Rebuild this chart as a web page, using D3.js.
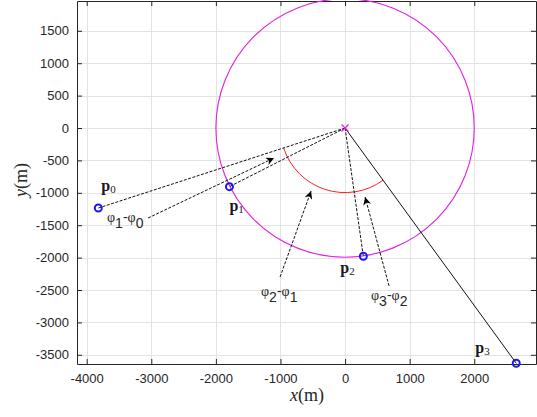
<!DOCTYPE html>
<html>
<head>
<meta charset="utf-8">
<script src="https://cdn.jsdelivr.net/npm/d3@7"></script>
<style>
  body { margin: 0; background: #fff; }
  svg { display: block; }
</style>
</head>
<body>
<script>
// points p0..p3 (metres)
var pointNames = ["p0", "p1", "p2", "p3"];
var pointX = [-3820, -1790, 283, 2650];
var pointY = [-1235, -905, -1980, -3630];
var lineDashed = [true, true, true, false];

// circles round the origin
var bigRadius = 2000;
var arcRadius = 1000;

// angle annotations: label, arrow from -> to (metres)
var annoText = [["1", "0"], ["2", "1"], ["3", "2"]];
var annoFromX = [-3050, -1006, 681];
var annoFromY = [-1389, -2299, -2438];
var annoToX = [-1099, -526, 310];
var annoToY = [-463, -972, -1065];

var xTicks = [-4000, -3000, -2000, -1000, 0, 1000, 2000];
var yTicks = [-3500, -3000, -2500, -2000, -1500, -1000, -500, 0, 500, 1000, 1500];

var w = 537;
var h = 417;
var mLeft = 77, mRight = 536, mTop = 1, mBottom = 364;

var x = d3.scaleLinear().domain([-4150, 2956]).range([mLeft, mRight]);
var y = d3.scaleLinear().domain([-3642, 1960]).range([mBottom, mTop]);

var svg = d3.select("body")
			.append("svg")
			.attr("width", w)
			.attr("height", h);

svg.append("defs").append("marker")
   .attr("id", "head")
   .attr("viewBox", "0 0 10 10")
   .attr("refX", 10)
   .attr("refY", 5)
   .attr("markerWidth", 11)
   .attr("markerHeight", 8)
   .attr("markerUnits", "userSpaceOnUse")
   .attr("orient", "auto")
   .append("path")
   .attr("d", "M0,0 L10,5 L0,10 L3,5 Z")
   .attr("fill", "#000");

//grid
var grid = svg.append("g").attr("stroke", "#e3e3e3").attr("stroke-width", 1);
grid.selectAll(".gx")
   .data(xTicks)
   .enter()
   .append("line")
   .attr("x1", function(d) { return Math.round(x(d)) + 0.5; })
   .attr("x2", function(d) { return Math.round(x(d)) + 0.5; })
   .attr("y1", mTop)
   .attr("y2", mBottom);
grid.selectAll(".gy")
   .data(yTicks)
   .enter()
   .append("line")
   .attr("y1", function(d) { return Math.round(y(d)) + 0.5; })
   .attr("y2", function(d) { return Math.round(y(d)) + 0.5; })
   .attr("x1", mLeft)
   .attr("x2", mRight);

//axes (MATLAB style, ticks inside, box on)
var tickFont = "'Liberation Sans', Arial, sans-serif";
var fmt = function(d) { return String(d); };
svg.append("g")
   .attr("transform", "translate(0," + mBottom + ")")
   .call(d3.axisBottom(x).tickValues(xTicks).tickFormat(fmt).tickSizeInner(-5).tickSizeOuter(0).tickPadding(10));
svg.append("g")
   .attr("transform", "translate(" + mLeft + ",0)")
   .call(d3.axisLeft(y).tickValues(yTicks).tickFormat(fmt).tickSizeInner(-5).tickSizeOuter(0).tickPadding(8));
svg.append("g")
   .attr("transform", "translate(0," + mTop + ")")
   .call(d3.axisTop(x).tickValues(xTicks).tickSizeInner(-5).tickSizeOuter(0).tickFormat(""));
svg.append("g")
   .attr("transform", "translate(" + mRight + ",0)")
   .call(d3.axisRight(y).tickValues(yTicks).tickSizeInner(-5).tickSizeOuter(0).tickFormat(""));
svg.selectAll(".domain").attr("stroke", "#262626");
svg.selectAll(".tick line").attr("stroke", "#262626");
svg.selectAll(".tick text")
   .attr("font-family", tickFont)
   .attr("font-size", "13px")
   .attr("fill", "#262626");

//big magenta circle
svg.append("circle")
   .attr("cx", x(0))
   .attr("cy", y(0))
   .attr("r", x(bigRadius) - x(0))
   .attr("fill", "none")
   .attr("stroke", "#e020e0")
   .attr("stroke-width", 1.1);

//red arc from p3 direction round to p0 direction
var cx = x(0), cy = y(0);
var aStart = Math.atan2(y(pointY[3]) - cy, x(pointX[3]) - cx);
var aEnd = Math.atan2(y(pointY[0]) - cy, x(pointX[0]) - cx);
var arc = d3.path();
var rArc = x(arcRadius) - x(0);
arc.moveTo(cx + rArc * Math.cos(aStart), cy + rArc * Math.sin(aStart));
arc.arc(cx, cy, rArc, aStart, aEnd, false);
svg.append("path")
   .attr("d", arc.toString())
   .attr("fill", "none")
   .attr("stroke", "#ff2020")
   .attr("stroke-width", 1);

//lines from centre to points
svg.selectAll(".ray")
   .data(pointX)
   .enter()
   .append("line")
   .attr("x1", cx)
   .attr("y1", cy)
   .attr("x2", function(d) { return x(d); })
   .attr("y2", function(d, i) { return y(pointY[i]); })
   .attr("stroke", "#111")
   .attr("stroke-width", 1)
   .attr("stroke-dasharray", function(d, i) { return lineDashed[i] ? "3,1.5" : null; });

//centre cross
svg.append("path")
   .attr("d", "M" + (cx - 3.5) + "," + (cy - 3.5) + "L" + (cx + 3.5) + "," + (cy + 3.5) +
              "M" + (cx - 3.5) + "," + (cy + 3.5) + "L" + (cx + 3.5) + "," + (cy - 3.5))
   .attr("stroke", "#e020e0")
   .attr("stroke-width", 1.2);

//points
svg.selectAll(".pt")
   .data(pointX)
   .enter()
   .append("circle")
   .attr("cx", function(d) { return x(d); })
   .attr("cy", function(d, i) { return y(pointY[i]); })
   .attr("r", 3.5)
   .attr("fill", "none")
   .attr("stroke", "#1a1aee")
   .attr("stroke-width", 2);

//point labels, bold p with subscript
var labelDx = [3, 0, -23, -41];
var labelDy = [-17, 24, 17, -10];
var pl = svg.selectAll(".pl")
   .data(pointNames)
   .enter()
   .append("text")
   .attr("x", function(d, i) { return x(pointX[i]) + labelDx[i]; })
   .attr("y", function(d, i) { return y(pointY[i]) + labelDy[i]; })
   .attr("font-family", "'Liberation Serif', 'DejaVu Serif', serif")
   .attr("font-weight", "bold")
   .attr("font-size", "16px")
   .attr("fill", "#1a1a1a");
pl.append("tspan").text("p");
pl.append("tspan")
   .attr("font-size", "11px")
   .attr("font-weight", "normal")
   .attr("dy", 2)
   .text(function(d) { return d.slice(1); });

//annotation arrows
svg.selectAll(".anno")
   .data(annoFromX)
   .enter()
   .append("line")
   .attr("x1", function(d) { return x(d); })
   .attr("y1", function(d, i) { return y(annoFromY[i]); })
   .attr("x2", function(d, i) { return x(annoToX[i]); })
   .attr("y2", function(d, i) { return y(annoToY[i]); })
   .attr("stroke", "#111")
   .attr("stroke-width", 1)
   .attr("stroke-dasharray", "3,1.5")
   .attr("marker-end", "url(#head)");

//annotation labels
var annoPos = [[107, 222], [261, 296], [371, 300]];
var at = svg.selectAll(".at")
   .data(annoText)
   .enter()
   .append("text")
   .attr("x", function(d, i) { return annoPos[i][0]; })
   .attr("y", function(d, i) { return annoPos[i][1]; })
   .attr("font-family", tickFont)
   .attr("font-size", "14px")
   .attr("fill", "#262626");
at.append("tspan").attr("font-family", "'Liberation Serif', serif").text("\u03c6");
at.append("tspan").attr("dy", 6).text(function(d) { return d[0]; });
at.append("tspan").attr("dy", -6).text("-");
at.append("tspan").attr("font-family", "'Liberation Serif', serif").text("\u03c6");
at.append("tspan").attr("dy", 6).text(function(d) { return d[1]; });

//axis titles
var xt = svg.append("text")
   .attr("x", 307)
   .attr("y", 401)
   .attr("text-anchor", "middle")
   .attr("font-family", "'Liberation Serif', serif")
   .attr("font-size", "18px")
   .attr("fill", "#262626");
xt.append("tspan").attr("font-style", "italic").text("x");
xt.append("tspan").text("(m)");

var yt = svg.append("text")
   .attr("transform", "translate(27,180) rotate(-90)")
   .attr("text-anchor", "middle")
   .attr("font-family", "'Liberation Serif', serif")
   .attr("font-size", "18px")
   .attr("fill", "#262626");
yt.append("tspan").attr("font-style", "italic").text("y");
yt.append("tspan").text("(m)");
</script>
</body>
</html>
